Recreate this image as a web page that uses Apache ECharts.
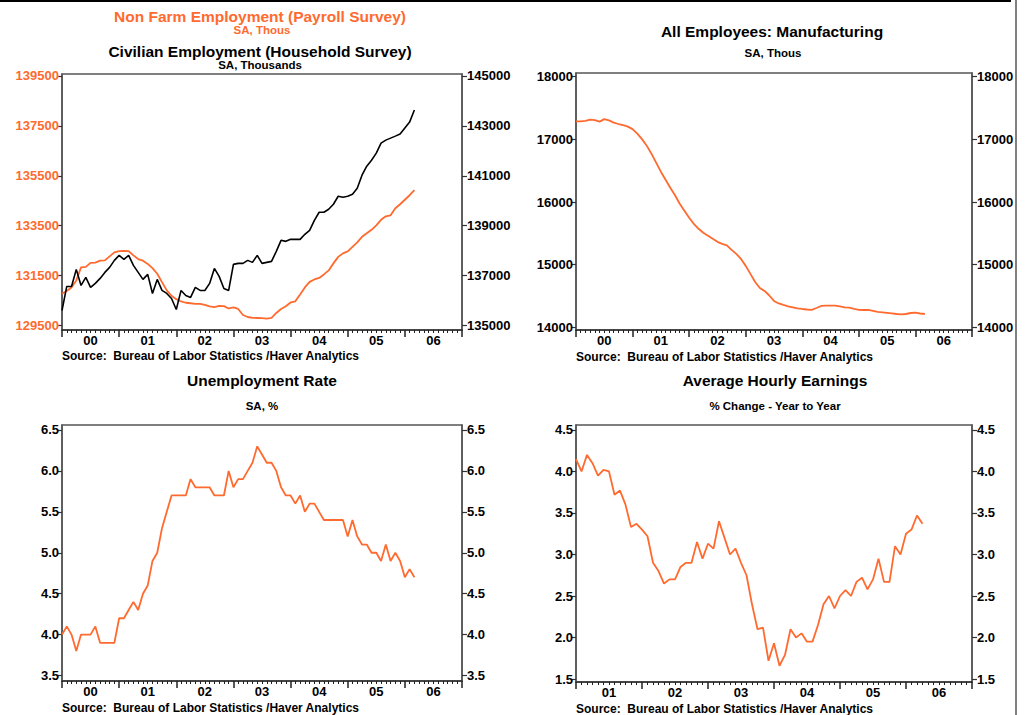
<!DOCTYPE html>
<html><head><meta charset="utf-8">
<script src="https://cdn.jsdelivr.net/npm/echarts@6/dist/echarts.min.js"></script>
<style>html,body{margin:0;padding:0;background:#fff}#c{width:1029px;height:715px}</style>
</head><body><div id="c"></div>
<script>
const ORANGE = '#FF6A2F';
const yearLabelsA = ['00','01','02','03','04','05','06'];
const yearLabelsB = ['01','02','03','04','05','06'];
const payrollTicks = [129500,131500,133500,135500,137500,139500];
const householdTicks = [135000,137000,139000,141000,143000,145000];
const mfgTicks = [14000,15000,16000,17000,18000];
const unempTicks = [3.5,4.0,4.5,5.0,5.5,6.0,6.5];
const aheTicks = [1.5,2.0,2.5,3.0,3.5,4.0,4.5];

// Monthly, Jan 2000 - Mar 2006
const payroll = [130773,130886,131026,131307,131829,131849,132010,132018,132098,132110,132271,132432,
 132484,132492,132484,132311,132163,132098,131970,131801,131576,131239,130906,130693,
 130556,130464,130412,130392,130371,130371,130323,130263,130235,130283,130279,130183,
 130223,130163,129922,129841,129809,129801,129793,129773,129809,130002,130163,130271,
 130424,130468,130745,131026,131247,131347,131408,131548,131709,131990,132251,132392,
 132472,132653,132833,133054,133195,133335,133516,133737,133877,133918,134199,134359,
 134540,134721,134922];
const household = [135602,136566,136566,137249,136606,136928,136526,136687,136888,137128,137329,137610,
 137811,137651,137811,137410,137128,136847,137048,136285,136847,136406,136285,136084,
 135643,136406,136205,136124,136526,136406,136406,136687,137289,136968,136486,136406,
 137450,137490,137490,137610,137530,137811,137490,137530,137570,137972,138414,138373,
 138454,138454,138454,138655,138815,139217,139538,139538,139659,139859,140181,140140,
 140181,140261,140502,141024,141385,141626,141908,142309,142430,142510,142590,142671,
 142912,143152,143634];
const manufacturing = [17286,17286,17294,17313,17305,17281,17321,17300,17265,17243,17224,17202,
 17162,17090,17002,16898,16770,16627,16483,16355,16227,16108,15972,15860,
 15748,15652,15573,15509,15461,15413,15365,15333,15309,15237,15173,15093,
 14982,14854,14726,14630,14582,14510,14423,14383,14359,14338,14322,14306,
 14295,14287,14282,14311,14343,14347,14347,14347,14335,14322,14316,14298,
 14282,14279,14279,14266,14250,14242,14234,14226,14215,14210,14215,14231,
 14236,14223,14215];
const unemployment = [4.0,4.1,4.0,3.8,4.0,4.0,4.0,4.1,3.9,3.9,3.9,3.9,
 4.2,4.2,4.3,4.4,4.3,4.5,4.6,4.9,5.0,5.3,5.5,5.7,
 5.7,5.7,5.7,5.9,5.8,5.8,5.8,5.8,5.7,5.7,5.7,6.0,
 5.8,5.9,5.9,6.0,6.1,6.3,6.2,6.1,6.1,6.0,5.8,5.7,
 5.7,5.6,5.7,5.5,5.6,5.6,5.5,5.4,5.4,5.4,5.4,5.4,
 5.2,5.4,5.2,5.1,5.1,5.0,5.0,4.9,5.1,4.9,5.0,4.9,
 4.7,4.8,4.7];
// Monthly, Jan 2001 - Apr 2006
const hourlyEarnings = [4.15,4.0,4.2,4.1,3.95,4.02,4.0,3.72,3.77,3.6,3.33,3.37,
 3.3,3.22,2.9,2.8,2.65,2.7,2.7,2.85,2.9,2.9,3.15,2.95,
 3.13,3.07,3.4,3.2,3.0,3.07,2.9,2.75,2.4,2.1,2.12,1.72,
 1.93,1.66,1.79,2.1,2.0,2.05,1.95,1.95,2.15,2.4,2.5,2.35,
 2.5,2.57,2.5,2.67,2.72,2.58,2.7,2.95,2.67,2.67,3.1,3.0,
 3.25,3.3,3.47,3.37];

const FONT = '"Liberation Sans", Arial, Helvetica, sans-serif';
const pairs = arr => arr.map((v, i) => [i, v]);

function xAxis(grid, years) {
  const n = years.length * 12;
  const tickVals = [], labVals = [];
  for (let k = 0; k <= years.length; k++) tickVals.push(k * 12);
  for (let k = 0; k < years.length; k++) labVals.push(k * 12 + 6);
  return {
    type: 'value', gridIndex: grid, min: 0, max: n, interval: 12,
    axisLine: {show: true, lineStyle: {color: '#333', width: 1.5}},
    axisTick: {show: true, length: 7, customValues: tickVals, lineStyle: {color: '#222', width: 1.5}},
    minorTick: {show: true, splitNumber: 12, length: 3, lineStyle: {color: '#222', width: 1}},
    axisLabel: {customValues: labVals, margin: 4, color: '#000', fontFamily: FONT, fontWeight: 'bold', fontSize: 13,
      formatter: v => years[Math.round((v - 6) / 12)]},
    splitLine: {show: false}
  };
}
function yAxis(grid, pos, min, max, ticks, color, dec) {
  return {
    type: 'value', gridIndex: grid, position: pos, min: min, max: max,
    axisLine: {show: true, lineStyle: {color: '#555', width: 1.5}},
    axisTick: {show: true, length: 5, customValues: ticks, lineStyle: {color: '#333', width: 1.2}},
    axisLabel: {customValues: ticks, margin: pos === 'left' ? 3 : 5, color: color, fontFamily: FONT, fontWeight: 'bold', fontSize: 13,
      formatter: v => dec ? v.toFixed(1) : String(Math.round(v))},
    splitLine: {show: false}
  };
}
function txt(text, x, y, size, color, align) {
  return {type: 'text', x: x, y: y, silent: true,
    style: {text: text, x: 0, y: 0, fill: color, font: 'bold ' + size + 'px ' + FONT,
      textAlign: align || 'center', align: align || 'center', textVerticalAlign: 'middle', verticalAlign: 'middle'}};
}
const SRC = 'Source:  Bureau of Labor Statistics /Haver Analytics';

const chart = echarts.init(document.getElementById('c'), null, {renderer: 'svg', width: 1029, height: 715});
chart.setOption({
  animation: false,
  backgroundColor: '#fff',
  grid: [
    {left: 62, top: 74, width: 400, height: 256, show: true, borderColor: '#555', borderWidth: 1.5},
    {left: 576, top: 73, width: 396, height: 257, show: true, borderColor: '#555', borderWidth: 1.5},
    {left: 62, top: 425, width: 400, height: 256, show: true, borderColor: '#555', borderWidth: 1.5},
    {left: 576, top: 425, width: 396, height: 257, show: true, borderColor: '#555', borderWidth: 1.5}
  ],
  xAxis: [xAxis(0, yearLabelsA), xAxis(1, yearLabelsA), xAxis(2, yearLabelsA), xAxis(3, yearLabelsB)],
  yAxis: [
    yAxis(0, 'left', 129320, 139580, payrollTicks, ORANGE, false),
    yAxis(0, 'right', 134820, 145080, householdTicks, '#000', false),
    yAxis(1, 'left', 13960, 18056, mfgTicks, '#000', false),
    yAxis(1, 'right', 13960, 18056, mfgTicks, '#000', false),
    yAxis(2, 'left', 3.433, 6.561, unempTicks, '#000', true),
    yAxis(2, 'right', 3.433, 6.561, unempTicks, '#000', true),
    yAxis(3, 'left', 1.464, 4.56, aheTicks, '#000', true),
    yAxis(3, 'right', 1.464, 4.56, aheTicks, '#000', true)
  ],
  series: [
    {name: 'Non Farm Employment', type: 'line', xAxisIndex: 0, yAxisIndex: 0, data: pairs(payroll), showSymbol: false, lineStyle: {color: ORANGE, width: 1.8}, z: 3},
    {name: 'Civilian Employment', type: 'line', xAxisIndex: 0, yAxisIndex: 1, data: pairs(household), showSymbol: false, lineStyle: {color: '#000', width: 1.6}, z: 4},
    {name: 'Manufacturing', type: 'line', xAxisIndex: 1, yAxisIndex: 2, data: pairs(manufacturing), showSymbol: false, lineStyle: {color: ORANGE, width: 1.8}},
    {name: 'Unemployment Rate', type: 'line', xAxisIndex: 2, yAxisIndex: 4, data: pairs(unemployment), showSymbol: false, lineStyle: {color: ORANGE, width: 1.8}},
    {name: 'Average Hourly Earnings', type: 'line', xAxisIndex: 3, yAxisIndex: 6, data: pairs(hourlyEarnings), showSymbol: false, lineStyle: {color: ORANGE, width: 1.8}}
  ],
  graphic: [
    {type: 'line', silent: true, shape: {x1: 0, y1: 1, x2: 1011, y2: 1}, style: {stroke: '#000', lineWidth: 2}},
    {type: 'line', silent: true, shape: {x1: 1016, y1: 0, x2: 1016, y2: 715}, style: {stroke: '#000', lineWidth: 1}},
    txt('Non Farm Employment (Payroll Survey)', 260, 16, 15.5, ORANGE),
    txt('SA, Thous', 262, 30, 11.5, ORANGE),
    txt('Civilian Employment (Household Survey)', 260, 51, 15.5, '#000'),
    txt('SA, Thousands', 260, 65, 11.5, '#000'),
    txt('All Employees: Manufacturing', 772, 31, 15.5, '#000'),
    txt('SA, Thous', 773, 53, 11.5, '#000'),
    txt('Unemployment Rate', 262, 380, 15.5, '#000'),
    txt('SA, %', 262, 406, 11.5, '#000'),
    txt('Average Hourly Earnings', 775, 380, 15.5, '#000'),
    txt('% Change - Year to Year', 775, 406, 11.5, '#000'),
    txt(SRC, 62, 356, 12, '#000', 'left'),
    txt(SRC, 576, 357, 12, '#000', 'left'),
    txt(SRC, 62, 708, 12, '#000', 'left'),
    txt(SRC, 576, 709, 12, '#000', 'left')
  ]
});
</script></body></html>
